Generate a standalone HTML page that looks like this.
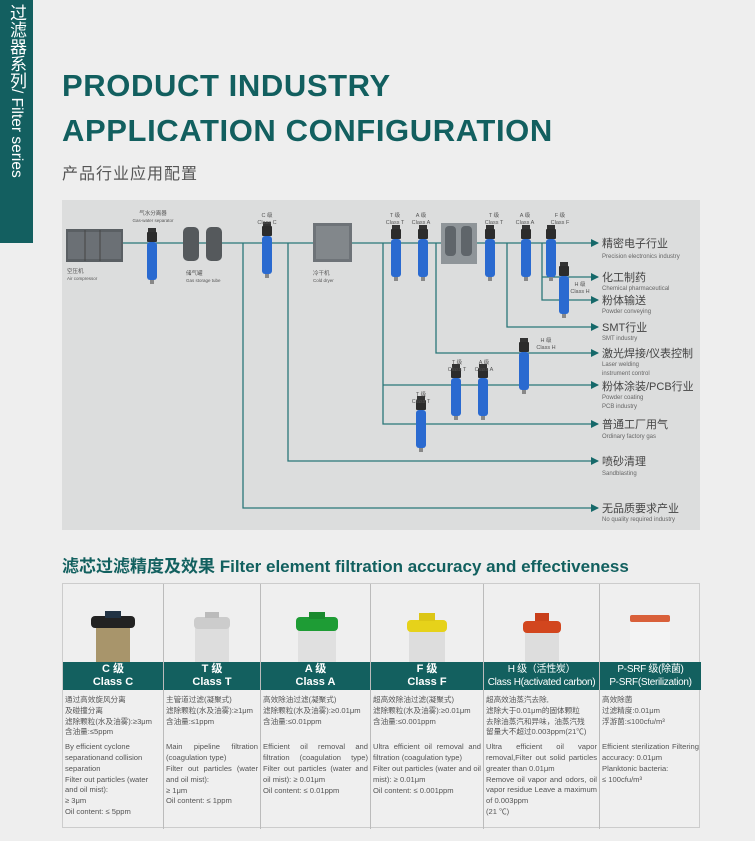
<!DOCTYPE html>
<html><head><meta charset="utf-8"><style>
*{margin:0;padding:0;box-sizing:border-box}
body{width:755px;height:841px;background:#eeeeee;position:relative;overflow:hidden;font-family:"Liberation Sans","Noto Sans CJK SC",sans-serif}
.side{position:absolute;left:0;top:0;width:33px;height:243px;background:#135f60;overflow:hidden}
.side div{position:absolute;left:6px;top:4px;writing-mode:vertical-rl;color:#fff;font-size:17px;line-height:20px;white-space:nowrap}
.side span{font-size:15.5px}
.t1{position:absolute;left:62px;color:#125f5f;font-weight:bold;font-size:31px;letter-spacing:0.6px;white-space:nowrap}
.sub{position:absolute;left:62px;top:160px;font-size:16px;color:#555;letter-spacing:1px}
.h2{position:absolute;left:62px;top:552px;font-size:17px;font-weight:bold;color:#12605f;white-space:nowrap}
.tbl{position:absolute;left:62px;top:583px;width:638px;height:245px;border:1px solid #ccc;background:#efefef}
.col{position:absolute;top:0;height:245px;border-right:1px solid #bbb}
.hd{position:absolute;top:78px;left:0;right:0;height:28px;background:#13605f;color:#fff;text-align:center;font-weight:bold;font-size:11px;line-height:13px;padding-top:1px;white-space:nowrap;overflow:hidden}
.tx{position:absolute;top:111px;left:2px;right:2px;font-size:7.6px;line-height:10.8px;color:#555}
.en{margin-top:4px;text-align:justify}
.img{position:absolute;top:0;left:0;right:0;height:78px}
</style></head><body>
<div class="side"><div>过滤器系列<span>/ Filter series</span></div></div>
<div class="t1" style="top:68px">PRODUCT INDUSTRY</div>
<div class="t1" style="top:113px">APPLICATION CONFIGURATION</div>
<div class="sub">产品行业应用配置</div>

<svg style="position:absolute;left:0;top:0" width="755" height="560">
<defs>
<symbol id="f" viewBox="0 0 12 56" width="12" height="56">
<rect x="2" y="0" width="8" height="4" fill="#333"/>
<rect x="1" y="4" width="10" height="10" rx="1" fill="#2c2c2c"/>
<rect x="1" y="14" width="10" height="38" rx="3" fill="#2a6ad0"/>
<rect x="4" y="52" width="4" height="4" fill="#888"/>
</symbol>
<marker id="a" markerWidth="8" markerHeight="8" refX="7" refY="4" orient="auto" markerUnits="userSpaceOnUse"><path d="M0,0 L8,4 L0,8z" fill="#16696a"/></marker>
</defs>
<rect x="62" y="200" width="638" height="330" fill="#dcdddd"/>
<g stroke="#2a7778" stroke-width="1.3" fill="none">
<line x1="123" y1="243" x2="598" y2="243" marker-end="url(#a)"/>
<polyline points="243,243 243,508 598,508" marker-end="url(#a)"/>
<polyline points="288,243 288,461 598,461" marker-end="url(#a)"/>
<polyline points="383,243 383,424 598,424" marker-end="url(#a)"/>
<polyline points="383,385 598,385" marker-end="url(#a)"/>
<polyline points="436,243 436,353 598,353" marker-end="url(#a)"/>
<polyline points="507,243 507,327 598,327" marker-end="url(#a)"/>
<polyline points="542,243 542,300 598,300" marker-end="url(#a)"/>
<polyline points="542,277 598,277" marker-end="url(#a)"/>
</g>
<rect x="66" y="229" width="57" height="33" fill="#5a5f63"/><rect x="68" y="232" width="53" height="27" fill="#6b7075"/>
<line x1="85" y1="230" x2="85" y2="261" stroke="#444"/><line x1="100" y1="230" x2="100" y2="261" stroke="#444"/>
<rect x="183" y="227" width="16" height="34" rx="5" fill="#55595c"/><rect x="206" y="227" width="16" height="34" rx="5" fill="#55595c"/>
<rect x="313" y="223" width="39" height="39" fill="#6e7378"/><rect x="316" y="226" width="33" height="33" fill="#82878b"/>
<rect x="441" y="223" width="36" height="41" fill="#8f9599"/><rect x="445" y="226" width="11" height="30" rx="4" fill="#5f656a"/><rect x="461" y="226" width="11" height="30" rx="4" fill="#5f656a"/>
<use href="#f" x="146" y="228"/><use href="#f" x="261" y="222"/>
<use href="#f" x="390" y="225"/><use href="#f" x="417" y="225"/>
<use href="#f" x="484" y="225"/><use href="#f" x="520" y="225"/><use href="#f" x="545" y="225"/>
<use href="#f" x="558" y="262"/><use href="#f" x="518" y="338"/>
<use href="#f" x="450" y="364"/><use href="#f" x="477" y="364"/><use href="#f" x="415" y="396"/>
<g font-family="Liberation Sans,Noto Sans CJK SC,sans-serif" fill="#555" font-size="5.5" text-anchor="middle">
<text x="153" y="215">气水分离器</text><text x="153" y="222" font-size="4.5">Gas-water separator</text>
<text x="267" y="217">C 级</text><text x="267" y="224">Class C</text>
<text x="395" y="217">T 级</text><text x="395" y="224">Class T</text>
<text x="421" y="217">A 级</text><text x="421" y="224">Class A</text>
<text x="494" y="217">T 级</text><text x="494" y="224">Class T</text>
<text x="525" y="217">A 级</text><text x="525" y="224">Class A</text>
<text x="560" y="217">F 级</text><text x="560" y="224">Class F</text>
<text x="580" y="286">H 级</text><text x="580" y="293">Class H</text>
<text x="546" y="342">H 级</text><text x="546" y="349">Class H</text>
<text x="457" y="364">T 级</text><text x="457" y="371">Class T</text>
<text x="484" y="364">A 级</text><text x="484" y="371">Class A</text>
<text x="421" y="396">T 级</text><text x="421" y="403">Class T</text>
</g>
<g font-family="Liberation Sans,Noto Sans CJK SC,sans-serif" fill="#555" font-size="5.5">
<text x="67" y="273">空压机</text><text x="67" y="280" font-size="4.5">Air compressor</text>
<text x="186" y="275">储气罐</text><text x="186" y="282" font-size="4.5">Gas storage tube</text>
<text x="313" y="275">冷干机</text><text x="313" y="282" font-size="4.5">Cold dryer</text>
</g>
<g font-family="Liberation Sans,Noto Sans CJK SC,sans-serif" fill="#444">
<g font-size="11"><text x="602" y="247">精密电子行业</text><text x="602" y="281">化工制药</text><text x="602" y="304">粉体输送</text><text x="602" y="331">SMT行业</text><text x="602" y="357">激光焊接/仪表控制</text><text x="602" y="390">粉体涂装/PCB行业</text><text x="602" y="428">普通工厂用气</text><text x="602" y="465">喷砂清理</text><text x="602" y="512">无品质要求产业</text></g>
<g font-size="6" fill="#666"><text x="602" y="258">Precision electronics industry</text><text x="602" y="290">Chemical pharmaceutical</text><text x="602" y="313">Powder conveying</text><text x="602" y="340">SMT industry</text><text x="602" y="366">Laser welding</text><text x="602" y="375">instrument control</text><text x="602" y="399">Powder coating</text><text x="602" y="408">PCB industry</text><text x="602" y="438">Ordinary factory gas</text><text x="602" y="475">Sandblasting</text><text x="602" y="521">No quality required industry</text></g>
</g>
</svg>

<div class="h2">滤芯过滤精度及效果 Filter element filtration accuracy and effectiveness</div>

<div class="tbl">
<div class="col" style="left:0;width:101px">
<div class="img"><svg width="100" height="78"><rect x="33" y="40" width="34" height="38" fill="#a8956b"/><rect x="28" y="32" width="44" height="12" rx="4" fill="#222"/><rect x="42" y="27" width="16" height="7" fill="#234"/></svg></div>
<div class="hd">C 级<br>Class C</div>
<div class="tx">通过高效旋风分离<br>及碰撞分离<br>滤除颗粒(水及油雾):≥3μm<br>含油量:≤5ppm<div class="en" style="text-align:left">By efficient cyclone separationand collision separation<br>Filter out particles (water and oil mist):<br>≥ 3μm<br>Oil content: ≤ 5ppm</div></div>
</div>
<div class="col" style="left:101px;width:97px">
<div class="img"><svg width="97" height="78"><rect x="31" y="40" width="34" height="38" fill="#ddd"/><rect x="30" y="33" width="36" height="12" rx="4" fill="#ccc"/><rect x="41" y="28" width="14" height="6" fill="#bbb"/></svg></div>
<div class="hd">T 级<br>Class T</div>
<div class="tx">主管道过滤(凝聚式)<br>滤除颗粒(水及油雾):≥1μm<br>含油量:≤1ppm<div class="en" style="margin-top:15px">Main pipeline filtration (coagulation type)<br>Filter out particles (water and oil mist):<br>≥ 1μm<br>Oil content: ≤ 1ppm</div></div>
</div>
<div class="col" style="left:198px;width:110px">
<div class="img"><svg width="110" height="78"><rect x="37" y="43" width="38" height="35" fill="#e0e0e0"/><rect x="35" y="33" width="42" height="14" rx="4" fill="#1e9c35"/><rect x="48" y="28" width="16" height="7" fill="#1a8a2e"/></svg></div>
<div class="hd">A 级<br>Class A</div>
<div class="tx">高效除油过滤(凝聚式)<br>滤除颗粒(水及油雾):≥0.01μm<br>含油量:≤0.01ppm<div class="en" style="margin-top:15px">Efficient oil removal and filtration (coagulation type) Filter out particles (water and oil mist): ≥ 0.01μm<br>Oil content: ≤ 0.01ppm</div></div>
</div>
<div class="col" style="left:308px;width:113px">
<div class="img"><svg width="113" height="78"><rect x="38" y="45" width="36" height="33" fill="#ddd"/><rect x="36" y="36" width="40" height="12" rx="4" fill="#e6d21a"/><rect x="48" y="29" width="16" height="8" fill="#dcc616"/></svg></div>
<div class="hd">F 级<br>Class F</div>
<div class="tx">超高效除油过滤(凝聚式)<br>滤除颗粒(水及油雾):≥0.01μm<br>含油量:≤0.001ppm<div class="en" style="margin-top:15px">Ultra efficient oil removal and filtration (coagulation type)<br>Filter out particles (water and oil mist): ≥ 0.01μm<br>Oil content: ≤ 0.001ppm</div></div>
</div>
<div class="col" style="left:421px;width:116px">
<div class="img"><svg width="116" height="78"><rect x="41" y="45" width="34" height="33" fill="#ddd"/><rect x="39" y="37" width="38" height="12" rx="4" fill="#d2461e"/><rect x="51" y="29" width="14" height="8" fill="#c83f1a"/></svg></div>
<div class="hd" style="font-size:10px;font-weight:normal;letter-spacing:-0.3px">H 级（活性炭）<br>Class H(activated carbon)</div>
<div class="tx">超高效油蒸汽去除,<br>滤除大于0.01μm的固体颗粒<br>去除油蒸汽和异味，油蒸汽残<br>留量大不超过0.003ppm(21℃)<div class="en">Ultra efficient oil vapor removal,Filter out solid particles greater than 0.01μm<br>Remove oil vapor and odors, oil vapor residue Leave a maximum of 0.003ppm<br>(21 ℃)</div></div>
</div>
<div class="col" style="left:537px;width:101px;border-right:none">
<div class="img"><svg width="101" height="78"><rect x="30" y="38" width="40" height="40" fill="#f3f3f3"/><rect x="30" y="31" width="40" height="7" rx="2" fill="#d9603a"/></svg></div>
<div class="hd" style="font-size:10px;font-weight:normal;letter-spacing:-0.3px">P-SRF 级(除菌)<br>P-SRF(Sterilization)</div>
<div class="tx">高效除菌<br>过滤精度:0.01μm<br>浮游菌:≤100cfu/m³<div class="en" style="margin-top:15px">Efficient sterilization Filtering accuracy: 0.01μm<br>Planktonic bacteria:<br>≤ 100cfu/m³</div></div>
</div>
</div>
</body></html>
